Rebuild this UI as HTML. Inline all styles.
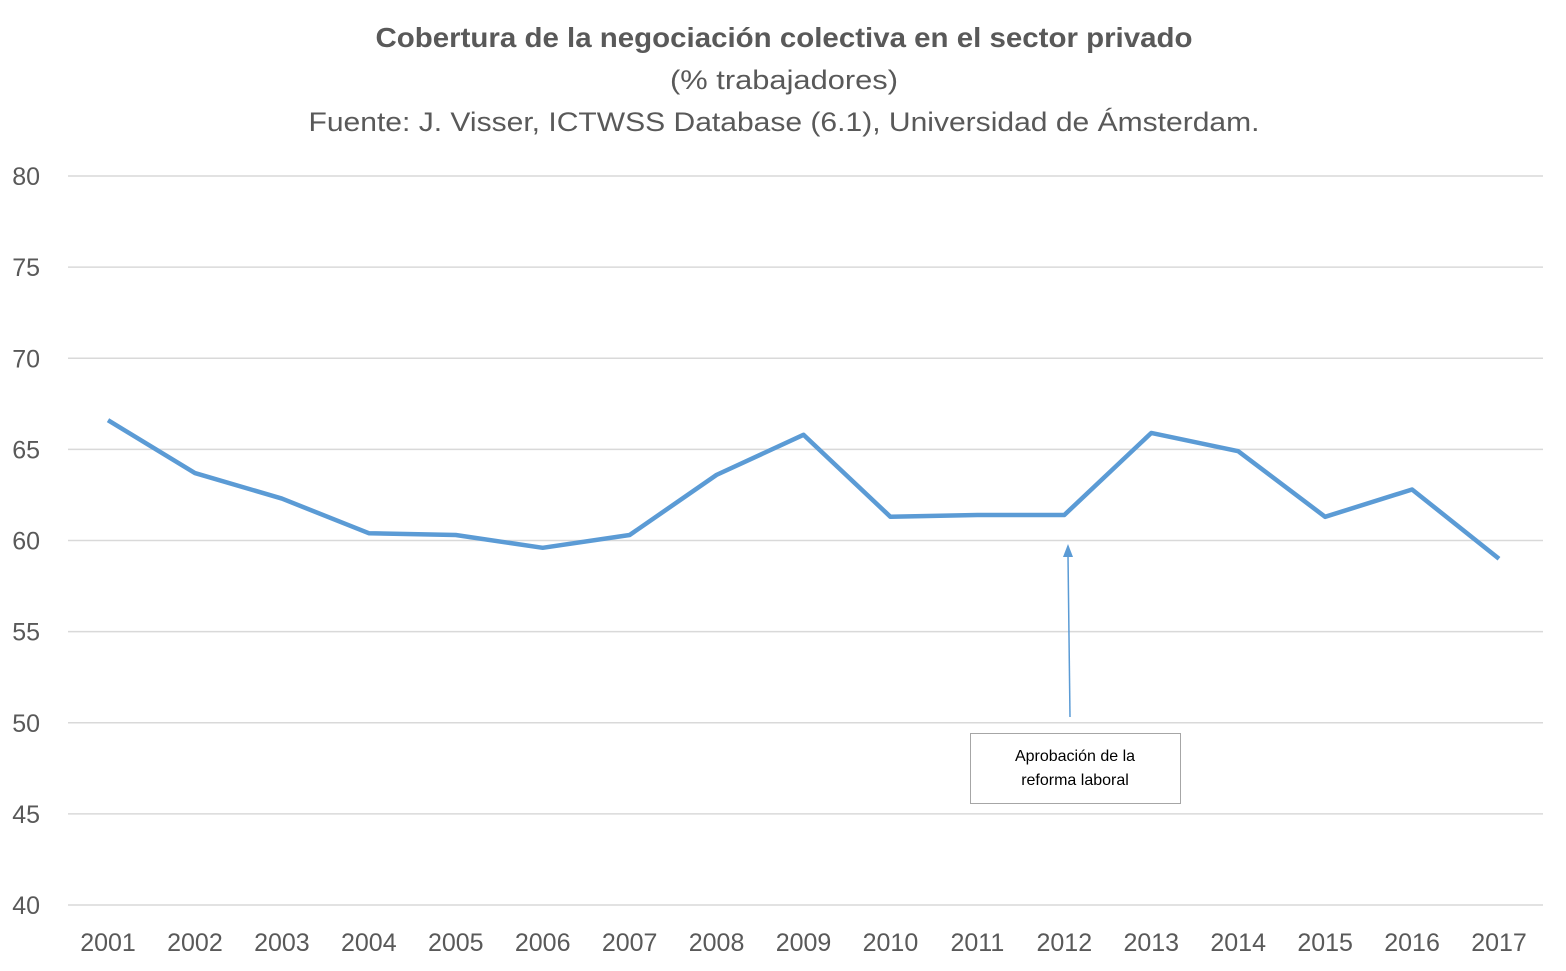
<!DOCTYPE html>
<html><head><meta charset="utf-8"><style>
html,body{margin:0;padding:0;background:#fff;}
svg{display:block;font-family:"Liberation Sans",sans-serif;}
</style></head><body>
<svg id="chart" width="1566" height="971" viewBox="0 0 1566 971">
<text x="784" y="47" text-anchor="middle" font-size="28" font-weight="bold" fill="#595959" textLength="817" lengthAdjust="spacingAndGlyphs">Cobertura de la negociación colectiva en el sector privado</text>
<text x="784" y="89" text-anchor="middle" font-size="27" fill="#595959" textLength="228" lengthAdjust="spacingAndGlyphs">(% trabajadores)</text>
<text x="784" y="131" text-anchor="middle" font-size="27" fill="#595959" textLength="951" lengthAdjust="spacingAndGlyphs">Fuente: J. Visser, ICTWSS Database (6.1), Universidad de Ámsterdam.</text>
<g id="grid"></g><g id="yticks"></g><g id="xticks"></g>
<path id="line" fill="none" stroke="#5b9bd5" stroke-width="4.5" stroke-linejoin="round"/>
<g>
<line x1="1070" y1="717" x2="1068" y2="556" stroke="#5b9bd5" stroke-width="1.5"/>
<polygon points="1068,544 1063,557 1073,557" fill="#5b9bd5"/>
<rect x="970.5" y="733.5" width="210" height="70" fill="#fff" stroke="#a6a6a6"/>
<text x="1075" y="761" text-anchor="middle" font-size="16" fill="#000">Aprobación de la</text>
<text x="1075" y="785" text-anchor="middle" font-size="16" fill="#000">reforma laboral</text>
</g>
</svg>
<script>
const years=["2001","2002","2003","2004","2005","2006","2007","2008","2009","2010","2011","2012","2013","2014","2015","2016","2017"];
const coverage=[66.6,63.7,62.3,60.4,60.3,59.6,60.3,63.6,65.8,61.3,61.4,61.4,65.9,64.9,61.3,62.8,59.0];
const yTicks=[40,45,50,55,60,65,70,75,80];
const NS="http://www.w3.org/2000/svg";
const y=v=>176+(80-v)*(905-176)/40;
const x=i=>108+i*(1499-108)/(years.length-1);
const grid=document.getElementById('grid'),yt=document.getElementById('yticks'),xt=document.getElementById('xticks');
yTicks.forEach(t=>{
 const l=document.createElementNS(NS,'line');
 l.setAttribute('x1',68);l.setAttribute('x2',1543);l.setAttribute('y1',y(t));l.setAttribute('y2',y(t));
 l.setAttribute('stroke','#d9d9d9');l.setAttribute('stroke-width','1.5');
 
 
 grid.appendChild(l);
 const s=document.createElementNS(NS,'text');
 s.setAttribute('x',40);s.setAttribute('y',y(t)+9);s.setAttribute('text-anchor','end');
 s.setAttribute('font-size','25');s.setAttribute('fill','#595959');s.textContent=t;
 
 
 yt.appendChild(s);
});
years.forEach((yr,i)=>{
 const s=document.createElementNS(NS,'text');
 s.setAttribute('x',x(i));s.setAttribute('y',951);s.setAttribute('text-anchor','middle');
 s.setAttribute('font-size','25');s.setAttribute('fill','#595959');s.textContent=yr;
 
 
 xt.appendChild(s);
});
document.getElementById('line').setAttribute('d',coverage.map((v,i)=>(i?'L':'M')+x(i)+','+y(v)).join(' '));
</script>
</body></html>
